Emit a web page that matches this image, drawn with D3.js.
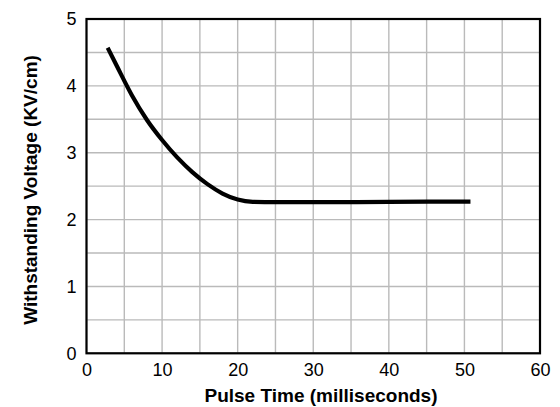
<!DOCTYPE html>
<html><head><meta charset="utf-8">
<script src="https://cdn.jsdelivr.net/npm/d3@7"></script>
<style>body{margin:0;background:#fff}svg{display:block}</style>
</head><body>
<svg id="c" width="560" height="407"></svg>
<script>
const pulseTime = [2.8, 4, 6, 8, 10, 12, 14, 16, 18, 20, 22, 25, 30, 40, 50.8];
const voltage   = [4.57, 4.30, 3.86, 3.49, 3.19, 2.93, 2.71, 2.53, 2.39, 2.30, 2.265, 2.26, 2.26, 2.265, 2.27];
const xTicks = [0, 10, 20, 30, 40, 50, 60];
const yTicks = [0, 1, 2, 3, 4, 5];
const xGrid = d3.range(0, 61, 5);
const yGrid = d3.range(0, 5.01, 0.5);
const xTitle = "Pulse Time (milliseconds)";
const yTitle = "Withstanding Voltage (KV/cm)";

const svg = d3.select("#c");
const L = 86.5, R = 540, T = 19, B = 353.3;
const x = d3.scaleLinear().domain([0, 60]).range([L, R]);
const y = d3.scaleLinear().domain([0, 5]).range([B, T]);
const font = "'Liberation Sans', Arial, Helvetica, sans-serif";

const g = svg.append("g");
g.selectAll(".gx").data(xGrid).join("line")
  .attr("x1", d => x(d)).attr("x2", d => x(d)).attr("y1", T).attr("y2", B)
  .attr("stroke", "#bababa").attr("stroke-width", 1.4);
g.selectAll(".gy").data(yGrid).join("line")
  .attr("y1", d => y(d)).attr("y2", d => y(d)).attr("x1", L).attr("x2", R)
  .attr("stroke", "#bababa").attr("stroke-width", 1.4);

const xAxis = d3.axisBottom(x).tickValues(xTicks).tickFormat(d3.format("d")).tickSize(0).tickPadding(10);
const yAxis = d3.axisLeft(y).tickValues(yTicks).tickFormat(d3.format("d")).tickSize(0).tickPadding(10);
const gx = svg.append("g").attr("transform", `translate(0,${B})`).call(xAxis);
const gy = svg.append("g").attr("transform", `translate(${L},0)`).call(yAxis);
[gx, gy].forEach(a => {
  a.select(".domain").remove();
  a.selectAll("text").attr("font-family", font).attr("font-size", 18).attr("fill", "#000");
});

svg.append("rect").attr("x", L).attr("y", T).attr("width", R - L).attr("height", B - T)
  .attr("fill", "none").attr("stroke", "#000").attr("stroke-width", 2.2);

const line = d3.line().x(d => x(d[0])).y(d => y(d[1])).curve(d3.curveMonotoneX);
svg.append("path").datum(pulseTime.map((t, i) => [t, voltage[i]]))
  .attr("d", line).attr("fill", "none").attr("stroke", "#000").attr("stroke-width", 4.2);

svg.append("text").attr("x", 321).attr("y", 402).attr("text-anchor", "middle")
  .attr("font-family", font).attr("font-weight", "bold").attr("font-size", 19).text(xTitle);
svg.append("text").attr("transform", `translate(37,${190}) rotate(-90)`).attr("text-anchor", "middle")
  .attr("font-family", font).attr("font-weight", "bold").attr("font-size", 19).text(yTitle);
</script>
</body></html>
